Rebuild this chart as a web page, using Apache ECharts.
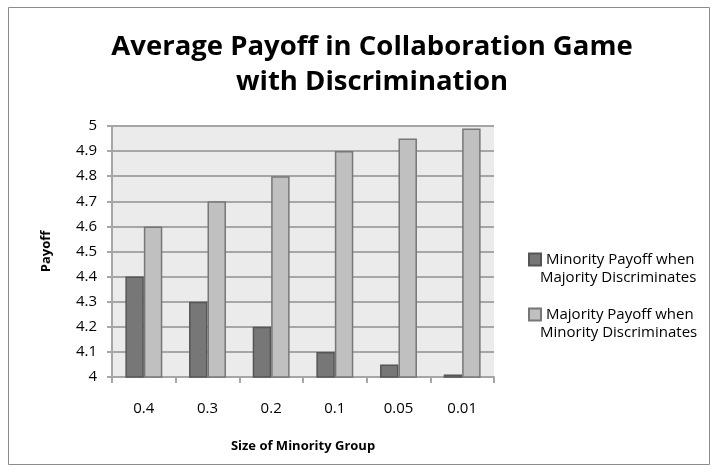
<!DOCTYPE html>
<html>
<head>
<meta charset="utf-8">
<script src="https://cdn.jsdelivr.net/npm/echarts@6/dist/echarts.min.js"></script>
<style>
  html, body { margin: 0; padding: 0; background: #fff; }
  #chart { width: 718px; height: 473px; }
</style>
</head>
<body>
<div id="chart"></div>
<script>
// 数据
const categories = ['0.4', '0.3', '0.2', '0.1', '0.05', '0.01'];
const minorityPayoff = [4.4, 4.3, 4.2, 4.1, 4.05, 4.01];
const majorityPayoff = [4.6, 4.7, 4.8, 4.9, 4.95, 4.99];
const seriesNames = ['Minority Payoff when Majority Discriminates', 'Majority Payoff when Minority Discriminates'];
// 图例分两行：第一行跟图标，第二行单独放
const legendFirst = ['Minority Payoff when', 'Majority Payoff when'];
const legendSecond = ['Majority Discriminates', 'Minority Discriminates'];

const font = '"Open Sans", "Liberation Sans", sans-serif';
let myChart = echarts.init(document.getElementById('chart'));

let option = {
  backgroundColor: '#fff',
  animation: false,
  textStyle: { fontFamily: font },
  title: {
    text: 'Average Payoff in Collaboration Game\nwith Discrimination',
    left: 367,
    textAlign: 'center',
    top: 25,
    textStyle: { fontSize: 27.5, fontWeight: 'bold', color: '#000', lineHeight: 35, fontFamily: font }
  },
  graphic: [
    {
      type: 'rect',
      shape: { x: 8.5, y: 7.5, width: 701, height: 457 },
      style: { fill: 'none', stroke: '#8c8c8c', lineWidth: 1 },
      silent: true
    },
    {
      type: 'text', left: 540, top: 270, silent: true,
      style: { text: legendSecond[0], font: '15px ' + font, fill: '#000' }
    },
    {
      type: 'text', left: 540, top: 325, silent: true,
      style: { text: legendSecond[1], font: '15px ' + font, fill: '#000' }
    }
  ],
  legend: {
    orient: 'vertical',
    left: 523,
    top: 245,
    itemWidth: 12,
    itemHeight: 12,
    itemGap: 36,
    icon: 'rect',
    formatter: name => legendFirst[seriesNames.indexOf(name)],
    textStyle: { fontSize: 15, color: '#000', lineHeight: 19, fontFamily: font },
    data: seriesNames
  },
  grid: { left: 112, top: 126, width: 382, height: 251, containLabel: false },
  xAxis: {
    type: 'category',
    data: categories,
    name: 'Size of Minority Group',
    nameLocation: 'middle',
    nameGap: 63,
    nameTextStyle: { fontSize: 13, fontWeight: 'bold', color: '#000' },
    axisLine: { lineStyle: { color: '#a6a6a6', width: 2 } },
    axisTick: { show: true, length: 6, lineStyle: { color: '#a6a6a6', width: 2 } },
    axisLabel: { fontSize: 15, color: '#000', margin: 24 }
  },
  yAxis: {
    type: 'value',
    min: 4,
    max: 5,
    interval: 0.1,
    name: 'Payoff',
    nameLocation: 'middle',
    nameGap: 59,
    nameTextStyle: { fontSize: 13, fontWeight: 'bold', color: '#000' },
    axisLine: { show: true, lineStyle: { color: '#a6a6a6', width: 2 } },
    axisTick: { show: true, length: 5, lineStyle: { color: '#a6a6a6', width: 2 } },
    axisLabel: { fontSize: 15, color: '#000', margin: 15, formatter: v => String(Math.round(v * 10) / 10) },
    splitLine: { lineStyle: { color: '#a6a6a6', width: 2 } },
    splitArea: { show: true, areaStyle: { color: ['#ebebeb', '#ebebeb'] } }
  },
  series: [
    {
      name: seriesNames[0],
      type: 'bar',
      data: minorityPayoff,
      barGap: '0%',
      barCategoryGap: '42%',
      itemStyle: { color: '#777777', borderColor: '#555555', borderWidth: 1.5 }
    },
    {
      name: seriesNames[1],
      type: 'bar',
      data: majorityPayoff,
      itemStyle: { color: '#c0c0c0', borderColor: '#777777', borderWidth: 1.5 }
    }
  ]
};

option && myChart.setOption(option);
</script>
</body>
</html>
